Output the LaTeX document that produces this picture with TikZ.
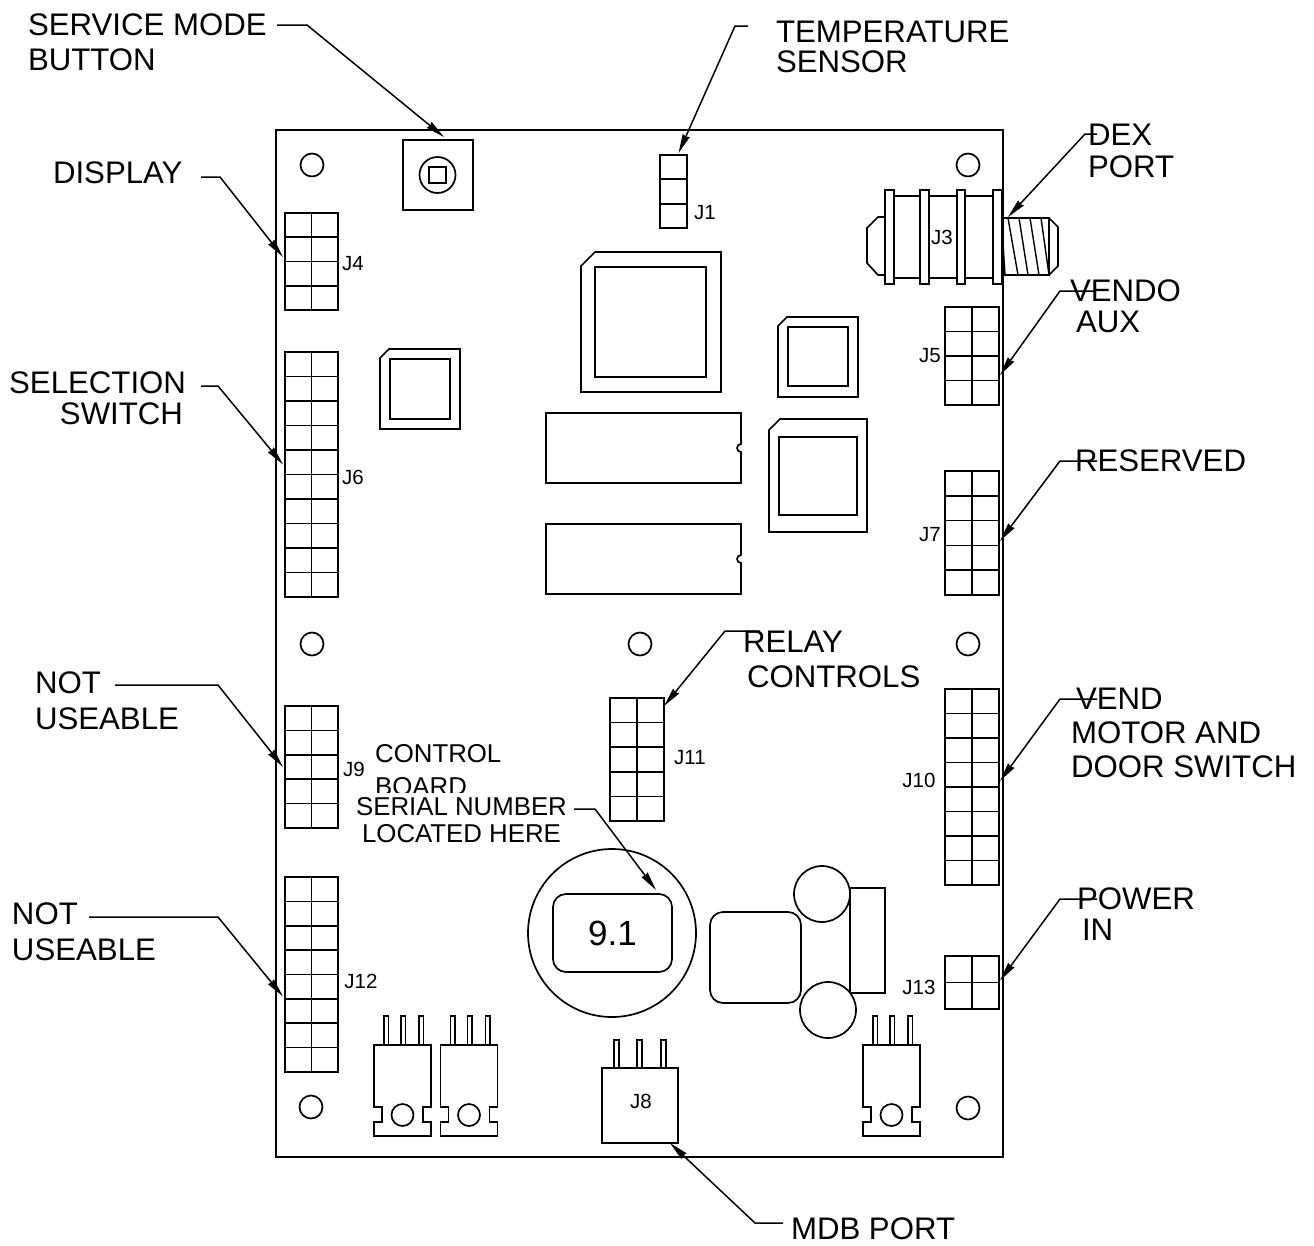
\documentclass[tikz,border=0pt]{standalone}
\usepackage{fontspec}
\setmainfont{Liberation Sans}
\usetikzlibrary{arrows.meta}
\tikzset{
  part/.style={line width=1.7pt,line join=miter,draw=black},
  leaderline/.style={line width=1.5pt,-{Stealth[length=19pt,width=7.5pt,inset=1pt]}},
  lab/.style={font=\fontsize{31.2}{#1}\selectfont,inner sep=0pt,outer sep=0pt},
  jlab/.style={font=\fontsize{20.5}{24}\selectfont,inner sep=0pt,outer sep=0pt},
  boxnode/.style={part,inner sep=0pt,outer sep=0pt},
}
% connector grid: name, x0, y0, x1, y1, cols, rows
\newcommand\congrid[7]{%
  \pgfmathsetmacro\gw{#4-#2}\pgfmathsetmacro\gh{#5-#3}%
  \node[boxnode,minimum width=\gw pt,minimum height=\gh pt] (#1) at ({(#2+#4)/2},{(#3+#5)/2}) {};
  \ifnum#6>1 \draw[part] ({(#2+#4)/2},#3) -- ({(#2+#4)/2},#5);\fi
  \foreach \r in {1,...,#7}{\ifnum\r<#7 \draw[part] (#2,{#3+\r*(#5-#3)/#7}) -- (#4,{#3+\r*(#5-#3)/#7});\fi}
}
% hole
\newcommand\hole[2]{\draw[part] (#1,#2) circle[radius=11.5];}
% chamfered chip: x0,y0,x1,y1,chamfer,ix0,iy0,ix1,iy1
\newcommand\chip[9]{%
  \draw[part] (#1,{#2+#5}) -- ({#1+#5},#2) -- (#3,#2) -- (#3,#4) -- (#1,#4) -- cycle;
  \draw[part] (#6,#7) rectangle (#8,#9);}
% DIP: y0,y1
\newcommand\dip[2]{%
  \draw[part] (546,#1) -- (741,#1) -- (741,{(#1+#2)/2-4}) arc[start angle=-90,end angle=-270,radius=4] -- (741,#2) -- (546,#2) -- cycle;}
% transistor: x0
\newcommand\transistor[1]{%
  \draw[part] (#1,1045) -- ({#1+57},1045) -- ({#1+57},1107) -- ({#1+49},1107) -- ({#1+49},1122) -- ({#1+57},1122) -- ({#1+57},1136) -- (#1,1136) -- (#1,1122) -- ({#1+8},1122) -- ({#1+8},1107) -- (#1,1107) -- cycle;
  \draw[part] ({#1+28.5},1115) circle[radius=11];
  \foreach \p in {10,27,45}{\draw[part] ({#1+\p},1045) -- ({#1+\p},1016) -- ({#1+\p+4.5},1016) -- ({#1+\p+4.5},1045);}
}
% leader: name, start x,y, elbow x,y, target
\newcommand\leader[6]{%
  \coordinate (#1-s) at (#2,#3);\coordinate (#1-e) at (#4,#5);
  \draw[leaderline] (#1-s) -- (#1-e) -- #6;}
\begin{document}
\begin{tikzpicture}[x=1pt,y=-1pt]
\useasboundingbox (0,0) rectangle (1314,1245);
\fill[white] (0,0) rectangle (1314,1245);
% board
\node[boxnode,line width=2pt,minimum width=727pt,minimum height=1027pt] (board) at (639.5,643) {};
% holes
\hole{312}{165}\hole{968}{165}\hole{312}{644}\hole{640}{644}\hole{968}{644}\hole{311}{1107}\hole{968}{1108}
% button
\node[boxnode,minimum width=70pt,minimum height=70pt] (button) at (438,175) {};
\draw[part] (437.5,175) circle[radius=18];
\draw[part] (429,167) rectangle (446,183);
% connector grids
\congrid{J4}{285}{213}{338}{310}{2}{4}
\congrid{J6}{285}{352}{338}{597}{2}{10}
\congrid{J9}{285}{706}{338}{828}{2}{5}
\congrid{J12}{285}{877}{338}{1072}{2}{8}
\congrid{J1}{660}{155}{687}{228}{1}{3}
\congrid{J5}{945}{307}{999}{405}{2}{4}
\congrid{J7}{945}{471}{999}{595}{2}{5}
\congrid{J10}{945}{689}{999}{885}{2}{8}
\congrid{J13}{945}{956}{999}{1009}{2}{2}
\congrid{J11}{610}{698}{664}{821}{2}{5}
% chips
\chip{581}{252}{721}{392}{14}{595}{267}{706}{377}
\chip{778}{317}{858}{397}{9}{788}{327}{848}{386}
\chip{769}{419}{867}{532}{11}{779}{437}{857}{515}
\chip{380}{349}{460}{429}{9}{390}{359}{450}{419}
\dip{413}{483}
\dip{524}{594}
% J3 jack
\foreach \a/\b in {885/894,920/929,957/965,993/1002}{\draw[part] (\a,190) rectangle (\b,284);}
\foreach \a/\b in {894/920,929/957,965/993}{\draw[part] (\a,196) -- (\b,196);\draw[part] (\a,278) -- (\b,278);}
\draw[part] (885,217) -- (878,217) -- (867,228) -- (867,263) -- (878,275) -- (885,275);
\node[boxnode,minimum width=47pt,minimum height=57pt] (thread) at (1025.5,246.5) {};
\draw[part] (1049,218) -- (1058,227) -- (1058,266) -- (1049,275);
\foreach \a/\b in {1008/1018,1019/1028,1030/1039,1041/1049}{\draw[line width=1.4pt] (\a,218) -- (\b,275);}
\draw[line width=1.4pt] (1003,243) -- (1005,275);
% serial display
\draw[part] (612,933) circle[radius=84];
\node[boxnode,rounded corners=13pt,minimum width=119pt,minimum height=78pt,font=\fontsize{35}{40}\selectfont] (disp) at (612.5,933) {9.1};
% regulator area
\draw[part] (850,888) rectangle (885,993);
\draw[part,rounded corners=13pt] (710,912) rectangle (801,1003);
\draw[part,fill=white] (822,894) circle[radius=28];
\draw[part,fill=white] (828,1010) circle[radius=28];
% transistors
\transistor{374}
\transistor{440.5}
\transistor{863}
% J8
\node[boxnode,minimum width=76pt,minimum height=75pt,jlab] (J8) at (640,1105.5) {};
\foreach \p in {614,637,661}{\draw[part] (\p,1068) -- (\p,1040) -- (\p+5,1040) -- (\p+5,1068);}
% J labels
\node[jlab] (tJ1) at (705,213) {J1};
\node[jlab] (tJ4) at (353,264) {J4};
\node[jlab] (tJ3) at (942,237) {J3};
\node[jlab] (tJ5) at (930,356) {J5};
\node[jlab] (tJ6) at (353,477) {J6};
\node[jlab] (tJ7) at (930,535) {J7};
\node[jlab] (tJ9) at (354,769) {J9};
\node[jlab] (tJ10) at (919,780) {J10};
\node[jlab] (tJ11) at (690,758) {J11};
\node[jlab] (tJ12) at (361,981) {J12};
\node[jlab] (tJ13) at (919,987) {J13};
\node[jlab] (tJ8) at (641,1101) {J8};
% labels
\node[lab=35,align=left,anchor=west] (service) at (28,42.5) {SERVICE MODE\\BUTTON};
\node[lab=30,align=left,anchor=west] (temp) at (776,47) {TEMPERATURE\\SENSOR};
\node[lab=32,align=left,anchor=west] (dex) at (1088,151) {DEX\\PORT};
\node[lab=31,align=left,anchor=west] (display) at (53,173) {DISPLAY};
\node[lab=31,align=left,anchor=west] (vendo) at (1070,306.5) {VENDO\\\hspace*{6pt}AUX};
\node[lab=31,align=right,anchor=east] (selection) at (186,398.5) {SELECTION\\SWITCH\hspace*{3pt}};
\node[lab=31,anchor=west] (reserved) at (1075,461) {RESERVED};
\node[lab=35,align=left,anchor=west] (relay) at (743,659.5) {RELAY\\\hspace*{4pt}CONTROLS};
\node[lab=34,align=left,anchor=west] (vend) at (1071,733) {\hspace*{5pt}VEND\\MOTOR AND\\DOOR SWITCH};
\node[lab=31,align=left,anchor=west] (power) at (1077,914.5) {POWER\\\hspace*{5pt}IN};
\node[lab=36,align=left,anchor=west] (not1) at (35,701) {NOT\\USEABLE};
\node[lab=36,align=left,anchor=west] (not2) at (12,932) {NOT\\USEABLE};
\node[lab=31,anchor=west] (mdb) at (791,1229) {MDB PORT};
% control board text clipped by serial label
\begin{scope}
\clip (370,735) rectangle (520,792);
\node[font=\fontsize{25.8}{32.5}\selectfont,inner sep=0pt,align=left,anchor=west] (ctrl) at (375,770) {CONTROL\\BOARD};
\end{scope}
\node[font=\fontsize{25.8}{27}\selectfont,inner sep=0pt,align=center] (serial) at (461.5,820.5) {SERIAL NUMBER\\LOCATED HERE};
% leaders
\leader{l1}{277}{25}{307}{25}{([xshift=6pt,yshift=3pt]button.north)}
\leader{l2}{748}{26}{735}{26}{([xshift=5pt,yshift=2pt]J1.north)}
\leader{l3}{1097}{134}{1085}{134}{([xshift=6pt,yshift=1pt]thread.north west)}
\leader{l4}{201}{177}{220}{177}{([xshift=-2pt,yshift=4.5pt]J4.west)}
\leader{l5}{201}{386}{218}{386}{([xshift=-2pt,yshift=10pt]J6.west)}
\leader{l6}{1096}{291}{1060}{291}{([xshift=1pt,yshift=-19pt]J5.east)}
\leader{l7}{1097}{461}{1060}{461}{([xshift=1pt,yshift=-8pt]J7.east)}
\leader{l8}{760}{631}{725}{631}{([yshift=-8pt]J11.north east)}
\leader{l9}{1097}{699}{1060}{699}{([xshift=1pt,yshift=6pt]J10.east)}
\leader{l10}{1097}{899}{1060}{899}{([xshift=1pt,yshift=2pt]J13.east)}
\leader{l11}{115}{685}{218}{685}{([xshift=-2pt]J9.west)}
\leader{l12}{89}{917}{218}{917}{([xshift=-2pt,yshift=-22pt]J12.west)}
\leader{l13}{574}{809}{595}{809}{([xshift=43.5pt,yshift=4pt]disp.north)}
\leader{l14}{783}{1223}{755}{1223}{([xshift=-8pt]J8.south east)}
\end{tikzpicture}
\end{document}
